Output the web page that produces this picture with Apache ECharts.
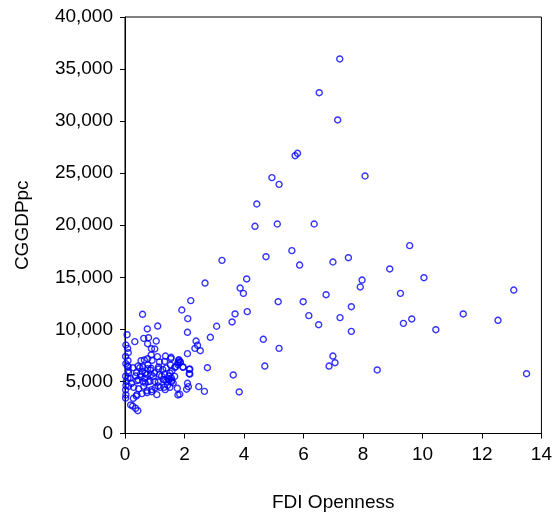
<!DOCTYPE html>
<html>
<head>
<meta charset="utf-8">
<script src="https://cdn.jsdelivr.net/npm/echarts@6/dist/echarts.min.js"></script>
<style>html,body{margin:0;padding:0;background:#fff;}#c{width:555px;height:518px;}</style>
</head>
<body>
<div id="c"></div>
<script>
// FDI Openness (x) values
var fdiOpenness = [
7.22,6.53,7.15,5.72,5.80,4.94,5.18,8.07,4.43,4.37,5.12,6.36,5.61,4.74,5.87,6.99,7.51,3.26,7.97,7.91,
4.09,3.87,3.98,2.69,2.21,1.91,6.76,5.15,5.99,7.61,6.18,7.23,6.51,7.61,4.11,3.70,3.60,3.08,2.87,2.11,
2.10,2.39,2.44,2.35,2.53,2.10,4.65,5.18,4.70,6.99,7.06,6.86,8.48,3.64,3.84,2.77,2.48,2.67,2.16,2.16,
1.95,2.10,2.13,2.07,1.84,
9.57,8.90,10.05,9.26,13.07,9.36,9.64,10.45,11.37,12.54,13.50,
0.59,1.10,0.75,0.07,0.33,0.63,0.79,0.76,1.05,0.89,1.00,0.09,0.11,
0.88,0.65,0.54,0.76,0.91,1.09,1.36,1.55,1.81,1.85,1.78,0.10,1.16,1.33,
1.53,1.70,1.13,1.13,0.50,0.76,0.85,0.58,0.67,0.11,0.11,0.39,0.36,
0.95,1.23,1.47,1.56,1.67,1.34,1.48,1.58,0.54,0.67,0.45,0.61,0.78,1.00,0.17,0.22,
1.76,1.78,1.32,1.51,1.11,0.38,0.28,0.19,0.26,0.36,0.43,
1.54,1.81,1.86,1.78,1.95,2.18,2.18,1.67,1.58,1.51,1.45,1.56,1.62,1.40,1.43,
0.08,0.27,0.44,0.60,0.77,0.88,1.27,1.38,
0.12,0.52,0.74,0.88,0.99,1.16,1.33,
0.10,0.40,0.68,0.84,1.12,1.29,
0.12,0.29,0.46,0.63,0.74,0.90,1.01,1.18,1.35,
0.40,0.57,0.74,0.90,1.07,
0.03,0.02,0.03,0.02,0.04,0.03,0.02,0.03,0.02
];
// CGGDPpc (y) values
var cggdppc = [
35970,32730,30110,26680,26910,24570,23930,24730,22040,19900,20120,20120,17560,16980,16180,16470,16880,16630,14740,14070,
14840,13970,13460,14450,12760,11860,13330,12660,12660,12180,11320,11130,10450,9810,11700,11480,10710,10300,9240,11030,
9720,8880,8470,8180,7950,7670,9050,8180,6480,7440,6800,6480,6100,5620,3990,6320,4500,4050,6160,5740,
6390,4820,4500,4250,3770,
18040,15800,14960,13460,13780,10580,11000,9970,11480,10870,5740,
11450,10320,10040,9490,8820,9140,9200,8620,8880,8140,8120,8180,7760,
7540,7060,6990,7180,7030,7380,7440,7320,6990,6840,6800,6990,6870,6920,
6580,6390,6390,6200,6320,6220,6100,5970,5780,6420,6030,5840,5520,
5460,5520,5520,5330,5490,5170,5140,5110,5460,5300,5140,4970,4970,5010,5300,4820,
4340,3700,4440,4440,4560,3600,3380,2740,2640,2420,2190,
7180,7090,6870,6610,6360,6190,5710,6360,6030,5810,5260,4950,4850,5010,4630,
6480,6320,6480,6380,6580,6260,6130,6290,
5810,5680,5650,5650,5810,5650,5710,
5330,5070,4850,5010,4950,5170,
4530,4430,4300,4530,4110,4210,4370,4430,4210,
3730,3830,3920,4010,3730,
8500,7400,6700,5500,5000,4600,4200,3700,3400
];
var xTicks = [0, 2, 4, 6, 8, 10, 12, 14];
var yTicks = [0, 5000, 10000, 15000, 20000, 25000, 30000, 35000, 40000];

var points = fdiOpenness.map(function (x, i) { return [x, cggdppc[i]]; });

var chart = echarts.init(document.getElementById('c'), null, {renderer: 'canvas'});
var font = 'Liberation Sans, Arial, sans-serif';
chart.setOption({
  animation: false,
  grid: {left: 125, right: 12, top: 17, bottom: 84.5, show: true, borderColor: '#000', borderWidth: 1, backgroundColor: 'transparent'},
  xAxis: {
    type: 'value', min: xTicks[0], max: xTicks[xTicks.length - 1], interval: 2,
    name: 'FDI Openness', nameLocation: 'middle', nameGap: 60,
    nameTextStyle: {fontFamily: font, fontSize: 19, color: '#000'},
    axisLine: {show: true, lineStyle: {color: '#000', width: 1}},
    axisTick: {show: true, length: 5, lineStyle: {color: '#000'}},
    axisLabel: {fontFamily: font, fontSize: 19, color: '#000', margin: 12},
    splitLine: {show: false}
  },
  yAxis: {
    type: 'value', min: yTicks[0], max: yTicks[yTicks.length - 1], interval: 5000,
    name: 'CGGDPpc', nameLocation: 'middle', nameGap: 93, nameRotate: 90,
    nameTextStyle: {fontFamily: font, fontSize: 19, color: '#000'},
    axisLine: {show: true, lineStyle: {color: '#000', width: 1}},
    axisTick: {show: true, length: 5, lineStyle: {color: '#000'}},
    axisLabel: {fontFamily: font, fontSize: 19, color: '#000', margin: 12,
      formatter: function (v) { return v.toLocaleString('en-US'); }},
    splitLine: {show: false}
  },
  series: [{
    type: 'scatter',
    data: points,
    symbol: 'circle',
    symbolSize: 6,
    itemStyle: {color: 'rgba(255,255,255,0)', borderColor: '#0000ff', borderWidth: 1.4}
  }]
});
</script>
</body>
</html>
